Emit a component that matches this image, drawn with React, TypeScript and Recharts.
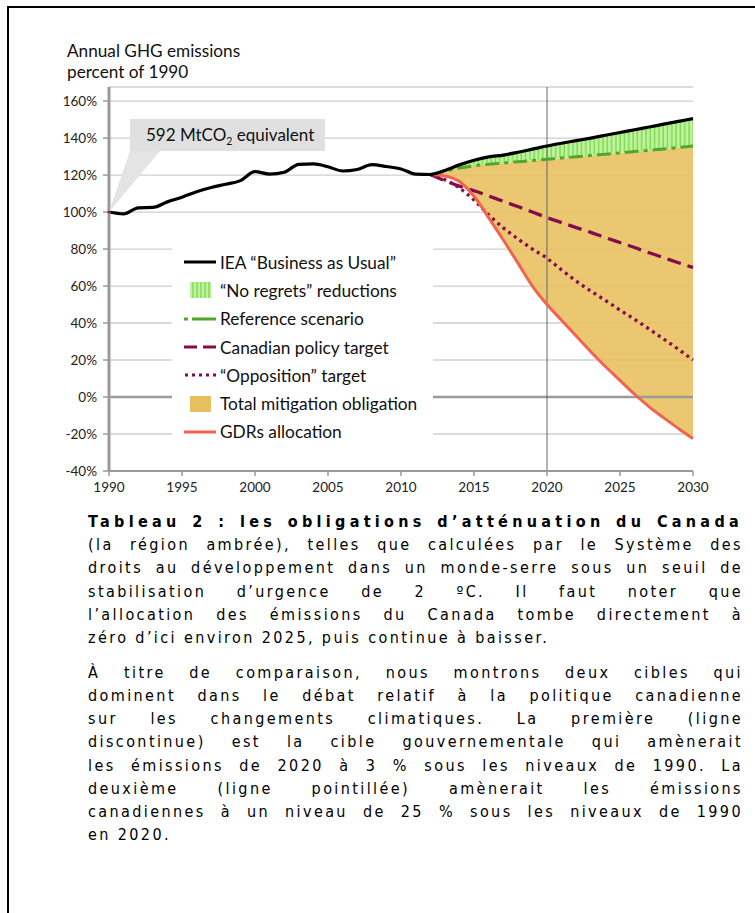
import React from "react";
import {
  ComposedChart,
  Line,
  Area,
  CartesianGrid,
  XAxis,
  YAxis,
  ReferenceLine,
  ReferenceDot,
  Legend,
} from "recharts";

const years = [
  1990, 1991, 1992, 1993, 1994, 1995, 1996, 1997, 1998, 1999, 2000, 2001, 2002, 2003,
  2004, 2005, 2006, 2007, 2008, 2009, 2010, 2011, 2012, 2013, 2014, 2015, 2016, 2017,
  2018, 2019, 2020, 2021, 2022, 2023, 2024, 2025, 2026, 2027, 2028, 2029, 2030,
];

// IEA "Business as Usual", % of 1990
const bau = [
  100, 99, 102.3, 102.5, 105.5, 108, 111, 113.3, 115, 117, 121.8, 120.5, 121.5, 125.8,
  126, 124.5, 122.2, 123, 125.6, 124.6, 123.3, 120.5, 120.3, 122.5, 125.5, 128, 129.8,
  130.8, 132.3, 134, 135.7, 137.2, 138.6, 140, 141.5, 143, 144.5, 146, 147.5, 149, 150.5,
];

// projections start in 2012
const projYears = [
  2012, 2013, 2014, 2015, 2016, 2017, 2018, 2019, 2020, 2021, 2022, 2023, 2024, 2025,
  2026, 2027, 2028, 2029, 2030,
];
const reference = [
  120.3, 122, 123.8, 125, 125.8, 126.5, 127.2, 127.8, 128.5, 129.2, 129.9, 130.6, 131.3,
  132, 132.7, 133.4, 134.1, 134.9, 135.7,
];
const canadian = [
  120.3, 117, 114, 111.5, 108.7, 105.8, 103, 100, 97, 94.3, 91.6, 89, 86.2, 83.5, 80.8,
  78, 75.3, 72.6, 70,
];
const opposition = [
  120.3, 117.5, 113, 106.5, 98.5, 91.5, 85.5, 80, 75, 68.7, 62.7, 57.3, 52.2, 47, 42,
  36.7, 31.3, 25.8, 20,
];
const gdrs = [
  120.3, 119.5, 116.5, 108.5, 97, 85, 72.5, 60, 50, 41.5, 33, 24.5, 16.5, 9, 1.5, -5.3,
  -11.3, -17, -22.5,
];

const xTicks = [1990, 1995, 2000, 2005, 2010, 2015, 2020, 2025, 2030];
const yTicks = [-40, -20, 0, 20, 40, 60, 80, 100, 120, 140, 160];

const data = years.map((year, i) => {
  const j = projYears.indexOf(year);
  const row: any = { year, bau: bau[i] };
  if (j >= 0) {
    row.reference = reference[j];
    row.canadian = canadian[j];
    row.opposition = opposition[j];
    row.gdrs = gdrs[j];
    row.noRegrets = [reference[j], bau[i]];
    row.mitigation = [gdrs[j], reference[j]];
  }
  return row;
});

const FONT = "Lato, 'Open Sans', sans-serif";
const MAROON = "#850c4c";
const GREEN = "#4fa82c";
const ORANGE = "#e8bf5e";
const SALMON = "#ee6450";

const legendRows = [
  { label: "IEA \u201cBusiness as Usual\u201d", kind: "bau" },
  { label: "\u201cNo regrets\u201d reductions", kind: "hatch" },
  { label: "Reference scenario", kind: "ref" },
  { label: "Canadian policy target", kind: "can" },
  { label: "\u201cOpposition\u201d target", kind: "opp" },
  { label: "Total mitigation obligation", kind: "fill" },
  { label: "GDRs allocation", kind: "gdr" },
];

function LegendIcon({ kind }: { kind: string }) {
  return (
    <svg width={36} height={20} style={{ display: "block", flex: "none" }}>
      <defs>
        <pattern id="hatchLegend" width="4" height="4" patternUnits="userSpaceOnUse">
          <rect width="4" height="4" fill="#bff39a" />
          <line x1="1" y1="0" x2="1" y2="4" stroke="#74d34f" strokeWidth="1.2" />
        </pattern>
      </defs>
      {kind === "bau" && <line x1={0} y1={10} x2={32} y2={10} stroke="#000" strokeWidth={3} />}
      {kind === "hatch" && <rect x={6} y={2} width={21} height={16} fill="url(#hatchLegend)" />}
      {kind === "ref" && (
        <line x1={0} y1={10} x2={32} y2={10} stroke={GREEN} strokeWidth={3} strokeDasharray="4 4 0 0 20 0" />
      )}
      {kind === "can" && (
        <line x1={0} y1={10} x2={32} y2={10} stroke={MAROON} strokeWidth={3} strokeDasharray="13 6" />
      )}
      {kind === "opp" && (
        <line x1={1} y1={10} x2={32} y2={10} stroke={MAROON} strokeWidth={3} strokeDasharray="3 4" />
      )}
      {kind === "fill" && <rect x={6} y={2} width={21} height={16} fill={ORANGE} />}
      {kind === "gdr" && <line x1={0} y1={10} x2={32} y2={10} stroke={SALMON} strokeWidth={3} />}
    </svg>
  );
}

const renderLegend = () => (
  <div style={{ background: "#fff", width: 261, height: 201, paddingTop: 4, boxSizing: "border-box" }}>
    {legendRows.map((r) => (
      <div
        key={r.kind}
        style={{
          display: "flex",
          alignItems: "center",
          height: 28.3,
          paddingLeft: 12,
          fontFamily: FONT,
          fontSize: 17.3,
          color: "#111",
          whiteSpace: "nowrap",
        }}
      >
        <LegendIcon kind={r.kind} />
        <span>{r.label}</span>
      </div>
    ))}
  </div>
);

const Callout = (props: any) => {
  const { cx, cy } = props;
  return (
    <g>
      <polygon points={`${cx},${cy} ${cx + 21},${cy - 61} ${cx + 51},${cy - 61}`} fill="#e4e4e4" />
      <rect x={cx + 21} y={cy - 93} width={195} height={32} fill="#e0e0e0" />
      <text x={cx + 37} y={cy - 71} fontFamily={FONT} fontSize={17} fill="#111">
        592 MtCO
        <tspan fontSize={10.5} dy={4}>2</tspan>
        <tspan dy={-4}> equivalent</tspan>
      </text>
      <circle cx={cx} cy={cy} r={1.5} fill="#a0104a" />
    </g>
  );
};

const captionP1: { text: string; bold?: boolean; last?: boolean }[] = [
  { text: "Tableau 2 : les obligations d\u2019atténuation du Canada", bold: true },
  { text: "(la région ambrée), telles que calculées par le Système des" },
  { text: "droits au développement dans un monde-serre sous un seuil de" },
  { text: "stabilisation d\u2019urgence de 2 ºC. Il faut noter que" },
  { text: "l\u2019allocation des émissions du Canada tombe directement à" },
  { text: "zéro d\u2019ici environ 2025, puis continue à baisser.", last: true },
];

const captionP2: { text: string; last?: boolean }[] = [
  { text: "À titre de comparaison, nous montrons deux cibles qui" },
  { text: "dominent dans le débat relatif à la politique canadienne" },
  { text: "sur les changements climatiques. La première (ligne" },
  { text: "discontinue) est la cible gouvernementale qui amènerait" },
  { text: "les émissions de 2020 à 3 % sous les niveaux de 1990. La" },
  { text: "deuxième (ligne pointillée) amènerait les émissions" },
  { text: "canadiennes à un niveau de 25 % sous les niveaux de 1990" },
  { text: "en 2020.", last: true },
];

const captionLine = (l: { text: string; bold?: boolean; last?: boolean }, i: number) => (
  <div
    key={i}
    style={{
      height: 23.2,
      lineHeight: "23.2px",
      whiteSpace: "nowrap",
      textAlign: "justify",
      textAlignLast: l.last ? "left" : "justify",
      fontWeight: l.bold ? "bold" : "normal",
      letterSpacing: l.bold ? 4.3 : 2.4,
    }}
  >
    {l.text}
  </div>
);

const App: React.FC = () => {
  return (
    <div
      style={{
        position: "absolute",
        left: 0,
        top: 0,
        width: 755,
        height: 913,
        overflow: "hidden",
        background: "#fff",
      }}
    >
      <div
        style={{
          position: "absolute",
          left: 7,
          top: 6,
          width: 800,
          height: 960,
          border: "2px solid #000",
        }}
      />
      <div
        style={{
          position: "absolute",
          left: 67,
          top: 40,
          fontFamily: FONT,
          fontSize: 17.2,
          lineHeight: "21px",
          color: "#111",
        }}
      >
        Annual GHG emissions
        <br />
        percent of 1990
      </div>

      <div style={{ position: "absolute", left: 0, top: 0 }}>
        <ComposedChart
          width={755}
          height={520}
          data={data}
          margin={{ top: 87, right: 62, bottom: 19, left: 49 }}
        >
          <defs>
            <pattern id="hatch" width="4.3" height="4" patternUnits="userSpaceOnUse">
              <rect width="4.3" height="4" fill="#bff39a" />
              <line x1="1" y1="0" x2="1" y2="4" stroke="#74d34f" strokeWidth="1.2" />
            </pattern>
          </defs>
          <CartesianGrid vertical={false} stroke="#cfcfcf" strokeWidth={1.3} />
          <XAxis
            dataKey="year"
            type="number"
            domain={[1990, 2030]}
            ticks={xTicks}
            interval={0}
            height={30}
            tickSize={5}
            tickMargin={6}
            axisLine={{ stroke: "#9a9a9a", strokeWidth: 2 }}
            tickLine={{ stroke: "#9a9a9a", strokeWidth: 1.5 }}
            tick={{ fontFamily: FONT, fontSize: 13.5, fill: "#222" }}
          />
          <YAxis
            type="number"
            domain={[-40, 167.6]}
            ticks={yTicks}
            interval={0}
            width={60}
            tickSize={6}
            tickMargin={6}
            tickFormatter={(v: number) => `${v}%`}
            axisLine={{ stroke: "#9a9a9a", strokeWidth: 3 }}
            tickLine={{ stroke: "#9a9a9a", strokeWidth: 1.5 }}
            tick={{ fontFamily: FONT, fontSize: 13.5, fill: "#222" }}
          />
          <ReferenceLine y={0} stroke="#9a9a9a" strokeWidth={2.5} />
          <Area
            dataKey="mitigation"
            type="monotone"
            stroke="none"
            fill={ORANGE}
            fillOpacity={0.88}
            isAnimationActive={false}
            connectNulls={false}
          />
          <Area
            dataKey="noRegrets"
            type="monotone"
            stroke="none"
            fill="url(#hatch)"
            fillOpacity={1}
            isAnimationActive={false}
          />
          <ReferenceLine x={2020} stroke="#666" strokeWidth={1} />
          <Line dataKey="reference" type="monotone" stroke={GREEN} strokeWidth={3} strokeDasharray="14 5 4 5" dot={false} isAnimationActive={false} />
          <Line dataKey="canadian" type="monotone" stroke={MAROON} strokeWidth={3.3} strokeDasharray="14 7" dot={false} isAnimationActive={false} />
          <Line dataKey="opposition" type="monotone" stroke={MAROON} strokeWidth={3.3} strokeDasharray="3 4" dot={false} isAnimationActive={false} />
          <Line dataKey="gdrs" type="monotone" stroke={SALMON} strokeWidth={3} dot={false} isAnimationActive={false} />
          <Line dataKey="bau" type="monotone" stroke="#000" strokeWidth={3.2} dot={false} isAnimationActive={false} />
          <ReferenceDot x={1990} y={100} r={0} shape={Callout} ifOverflow="visible" />
          <Legend
            layout="vertical"
            align="center"
            verticalAlign="middle"
            content={renderLegend}
            wrapperStyle={{ left: 172, top: 244, width: 261, height: 201 }}
          />
        </ComposedChart>
      </div>

      <div
        style={{
          position: "absolute",
          left: 88,
          top: 510,
          width: 655,
          fontFamily: "'DejaVu Sans Condensed', 'DejaVu Sans', sans-serif",
          fontSize: 16,
          color: "#000",
        }}
      >
        {captionP1.map(captionLine)}
        <div style={{ height: 11.8 }} />
        {captionP2.map(captionLine)}
      </div>
    </div>
  );
};

export default App;
